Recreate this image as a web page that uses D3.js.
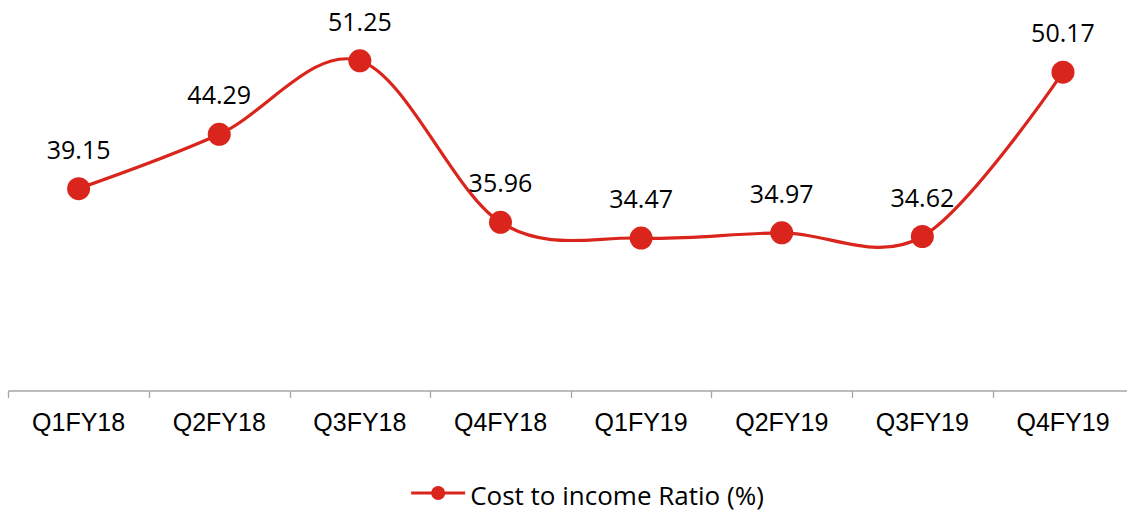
<!DOCTYPE html>
<html>
<head>
<meta charset="utf-8">
<script src="https://cdn.jsdelivr.net/npm/d3@7"></script>
<style>
	body { margin: 0; background: #fff; }
	svg { display: block; font-family: 'Open Sans', 'DejaVu Sans', sans-serif; }
	.axis-x path.domain, .axis-x line { stroke: #a6a6a6; stroke-width: 1.3; }
	.axis-x text { fill: #000; font-size: 25px; }
	.point-label { fill: #000; font-size: 25px; }
	.legend-text { fill: #000; font-size: 26px; }
</style>
</head>
<body>
<svg id="chart" width="1127" height="512"></svg>
<script>
'use strict';

var aQuarters = ['Q1FY18','Q2FY18','Q3FY18','Q4FY18','Q1FY19','Q2FY19','Q3FY19','Q4FY19'];
var aCostIncome = [39.15, 44.29, 51.25, 35.96, 34.47, 34.97, 34.62, 50.17];
var strSeriesName = 'Cost to income Ratio (%)';
var aYDomain = [20, 57];

var strRed = '#da251d';

var sSvg = d3.select('#chart');
var rMargin = {top: 0, left: 8.3};
var nPlotWidth = 1125;
var nPlotBottom = 391;

var aData = aQuarters.map(function(q, i) { return {q: q, v: aCostIncome[i]}; });

var scaleX = d3.scaleBand()
	.domain(aQuarters)
	.range([rMargin.left, rMargin.left + nPlotWidth]);

var scaleY = d3.scaleLinear()
	.domain(aYDomain)
	.range([nPlotBottom, rMargin.top]);

function cx(d) { return scaleX(d.q) + scaleX.bandwidth()/2; }
function cy(d) { return scaleY(d.v); }

// x axis, ticks sit on the band edges like excel
var axisX = d3.axisBottom(scaleX).tickSize(0).tickPadding(22);
var sAxis = sSvg.append('g')
	.attr('class', 'axis-x')
	.attr('transform', 'translate(0,' + nPlotBottom + ')')
	.call(axisX);
sAxis.select('path.domain').attr('d', 'M' + rMargin.left + ',0H' + (rMargin.left + nPlotWidth));
sAxis.selectAll('.tick text').attr('dy', '0.71em');

var aEdges = aQuarters.map(function(q) { return scaleX(q); });
sAxis.selectAll('line.edge')
	.data(aEdges)
	.enter()
		.append('line')
			.attr('class', 'edge')
			.attr('x1', function(x) { return Math.round(x) + 0.5; })
			.attr('x2', function(x) { return Math.round(x) + 0.5; })
			.attr('y1', 0)
			.attr('y2', 7);

// smoothed line
var line = d3.line()
	.x(cx)
	.y(cy)
	.curve(d3.curveCardinal.tension(0));

sSvg.append('path')
	.datum(aData)
	.attr('fill', 'none')
	.attr('stroke', strRed)
	.attr('stroke-width', 3.2)
	.attr('d', line);

sSvg.selectAll('circle.pt')
	.data(aData)
	.enter()
		.append('circle')
			.attr('class', 'pt')
			.attr('cx', cx)
			.attr('cy', cy)
			.attr('r', 11.5)
			.attr('fill', strRed);

sSvg.selectAll('text.point-label')
	.data(aData)
	.enter()
		.append('text')
			.attr('class', 'point-label')
			.attr('x', cx)
			.attr('y', function(d) { return cy(d) - 30; })
			.style('text-anchor', 'middle')
			.text(function(d) { return d.v.toFixed(2); });

// legend
var sLegend = sSvg.append('g').attr('class', 'legend');
sLegend.append('line')
	.attr('x1', 0).attr('x2', 54)
	.attr('y1', 0).attr('y2', 0)
	.attr('stroke', strRed)
	.attr('stroke-width', 3.2);
sLegend.append('circle')
	.attr('cx', 27).attr('cy', 0).attr('r', 7)
	.attr('fill', strRed);
sLegend.append('text')
	.attr('class', 'legend-text')
	.attr('x', 59)
	.attr('y', 12)
	.text(strSeriesName);

var nLegendW = sLegend.node().getBBox().width;
sLegend.attr('transform', 'translate(' + (587.5 - nLegendW/2) + ',493)');
</script>
</body>
</html>
